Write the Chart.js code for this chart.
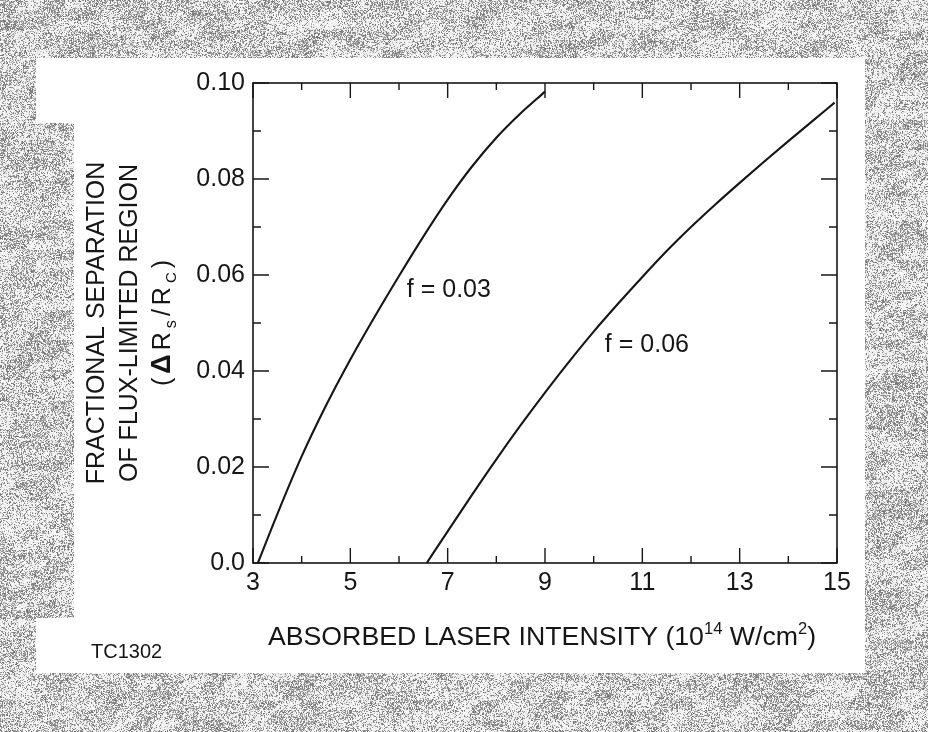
<!DOCTYPE html>
<html>
<head>
<meta charset="utf-8">
<style>
  html, body { margin: 0; padding: 0; background: #fff; }
  #c { display: block; }
</style>
<script src="https://cdn.jsdelivr.net/npm/chart.js@4.4.0/dist/chart.umd.min.js"></script>
</head>
<body>
<canvas id="c" width="928" height="732" style="width:928px;height:732px"></canvas>
<script>
// values
const f003X = [3.1, 3.5, 4.0, 4.5, 5.0, 5.5, 6.0, 6.5, 7.0, 7.5, 8.0, 8.5, 9.0];
const f003Y = [0, 0.0102, 0.0222, 0.0328, 0.0424, 0.0513, 0.0598, 0.068, 0.0757, 0.0826, 0.0886, 0.0937, 0.0982];

const f006X = [6.57, 7.0, 7.5, 8.0, 8.5, 9.0, 9.5, 10.0, 10.5, 11.0, 11.5, 12.0, 12.5, 13.0, 13.5, 14.0, 14.5, 14.95];
const f006Y = [0, 0.0066, 0.0142, 0.0216, 0.0287, 0.0355, 0.042, 0.0482, 0.054, 0.0596, 0.065, 0.07, 0.0747, 0.0792, 0.0836, 0.0879, 0.0921, 0.0959];

const xMajorTicks = [3, 5, 7, 9, 11, 13, 15];
const xMinorTicks = [4, 6, 8, 10, 12, 14];
const yMajorTicks = [0, 0.02, 0.04, 0.06, 0.08, 0.10];
const yMinorTicks = [0.01, 0.03, 0.05, 0.07, 0.09];
const yTickLabels = ['0.0', '0.02', '0.04', '0.06', '0.08', '0.10'];

const curveLabels = ['f = 0.03', 'f = 0.06'];
const curveLabelX = [6.16, 10.23];
const curveLabelY = [0.0569, 0.0454];

const FONT = "'Liberation Sans', Arial, Helvetica, sans-serif";
const INK = '#161616';
const W = 928, H = 732;

function hash(x, y) {
    let h = Math.imul(x, 374761393) + Math.imul(y, 668265263);
    h = Math.imul(h ^ (h >>> 13), 1274126177);
    return ((h ^ (h >>> 16)) >>> 0) / 4294967296;
}

// white sheet of the scan; the left edge is a bit wider in the middle
function onSheet(x, y) {
    if (y < 58 || y >= 673 || x >= 865) return false;
    if (x < 36) return false;
    if (x < 74 && y > 122 && y < 618) return false;
    return true;
}

function buildBackdrop() {
    const off = document.createElement('canvas');
    off.width = W;
    off.height = H;
    const g = off.getContext('2d');
    const img = g.createImageData(W, H);
    for (let y = 0; y < H; y++) {
        for (let x = 0; x < W; x++) {
            let v = 255;
            if (!onSheet(x, y)) {
                const blk = hash(Math.floor((x + y * 0.7) / 22), Math.floor(y / 10) + 977);
                const lvl = 0.2 + 0.4 * blk;
                v = hash(x, y) < lvl ? 110 + 70 * hash(y + 31, x + 7) : 228 + 27 * hash(x + 3, y + 11);
            }
            const i = (y * W + x) * 4;
            img.data[i] = img.data[i + 1] = img.data[i + 2] = v;
            img.data[i + 3] = 255;
        }
    }
    g.putImageData(img, 0, 0);
    return off;
}
const backdrop = buildBackdrop();

function drawRich(ctx, parts, cx, baseY, size, spacing) {
    spacing = spacing || 0;
    let total = 0;
    const widths = parts.map(p => {
        const s = size * (p.scale || 1);
        ctx.font = (p.bold ? 'bold ' : '') + s + 'px ' + FONT;
        const w = ctx.measureText(p.t).width + spacing;
        total += w;
        return w;
    });
    total -= spacing;
    let x = cx - total / 2;
    parts.forEach((p, i) => {
        const s = size * (p.scale || 1);
        ctx.font = (p.bold ? 'bold ' : '') + s + 'px ' + FONT;
        ctx.fillText(p.t, x, baseY + (p.dy || 0) * size);
        x += widths[i];
    });
}

const sheetPlugin = {
    id: 'sheet',
    beforeDraw(chart) {
        chart.ctx.drawImage(backdrop, 0, 0);
    },
    afterDraw(chart) {
        const ctx = chart.ctx;
        const a = chart.chartArea;
        const xs = chart.scales.x, ys = chart.scales.y;
        ctx.save();

        // frame
        ctx.strokeStyle = INK;
        ctx.lineWidth = 1.6;
        ctx.strokeRect(a.left, a.top, a.right - a.left, a.bottom - a.top);

        // inward ticks on all four sides
        ctx.lineWidth = 1.4;
        ctx.beginPath();
        const xt = (v, len) => {
            const px = xs.getPixelForValue(v);
            ctx.moveTo(px, a.bottom); ctx.lineTo(px, a.bottom - len);
            ctx.moveTo(px, a.top); ctx.lineTo(px, a.top + len);
        };
        const yt = (v, len) => {
            const py = ys.getPixelForValue(v);
            ctx.moveTo(a.left, py); ctx.lineTo(a.left + len, py);
            ctx.moveTo(a.right, py); ctx.lineTo(a.right - len, py);
        };
        xMajorTicks.forEach(v => xt(v, 15));
        xMinorTicks.forEach(v => xt(v, 7));
        yMajorTicks.forEach(v => yt(v, 16));
        yMinorTicks.forEach(v => yt(v, 8));
        ctx.stroke();

        ctx.fillStyle = INK;
        ctx.textBaseline = 'middle';
        ctx.textAlign = 'left';
        ctx.font = '25px ' + FONT;
        curveLabels.forEach((t, i) => {
            ctx.fillText(t, xs.getPixelForValue(curveLabelX[i]), ys.getPixelForValue(curveLabelY[i]));
        });

        // x axis title with superscripts
        ctx.textBaseline = 'alphabetic';
        drawRich(ctx, [
            { t: 'ABSORBED LASER INTENSITY (10' },
            { t: '14', scale: 0.62, dy: -0.42 },
            { t: ' W/cm' },
            { t: '2', scale: 0.62, dy: -0.42 },
            { t: ')' }
        ], (a.left + a.right) / 2 - 3, a.bottom + 82, 26.7);

        ctx.font = '20px ' + FONT;
        ctx.fillText('TC1302', 91, a.bottom + 95);

        // y axis title, three rotated lines
        ctx.translate(0, (a.top + a.bottom) / 2);
        ctx.rotate(-Math.PI / 2);
        drawRich(ctx, [{ t: 'FRACTIONAL SEPARATION' }], 0, 104, 25);
        drawRich(ctx, [{ t: 'OF FLUX-LIMITED REGION' }], 0, 137, 25);
        drawRich(ctx, [
            { t: '(' },
            { t: '\u0394', bold: true, scale: 1.08 },
            { t: 'R' },
            { t: 's', scale: 0.65, dy: 0.22 },
            { t: '/' },
            { t: 'R' },
            { t: 'C', scale: 0.6, dy: 0.22 },
            { t: ')' }
        ], 0, 170, 25, 4);

        ctx.restore();
    }
};

const toPoints = (xs, ys) => xs.map((x, i) => ({ x: x, y: ys[i] }));

new Chart(document.getElementById('c'), {
    type: 'line',
    data: {
        datasets: [
            { label: 'f = 0.03', data: toPoints(f003X, f003Y) },
            { label: 'f = 0.06', data: toPoints(f006X, f006Y) }
        ]
    },
    options: {
        responsive: false,
        animation: false,
        events: [],
        layout: { padding: { top: 83, right: 91, left: 0, bottom: 0 } },
        elements: {
            point: { radius: 0 },
            line: { borderColor: INK, borderWidth: 2.1, cubicInterpolationMode: 'monotone', fill: false }
        },
        plugins: { legend: { display: false }, tooltip: { enabled: false } },
        scales: {
            x: {
                type: 'linear',
                min: 3,
                max: 15,
                grid: { display: false, drawTicks: false },
                border: { display: false },
                afterBuildTicks: s => { s.ticks = xMajorTicks.map(v => ({ value: v })); },
                afterFit: s => { s.height = 169; },
                ticks: {
                    color: INK,
                    padding: 5,
                    maxRotation: 0,
                    font: { family: FONT, size: 25 },
                    callback: v => String(v)
                }
            },
            y: {
                min: 0,
                max: 0.1,
                grid: { display: false, drawTicks: false },
                border: { display: false },
                afterBuildTicks: s => { s.ticks = yMajorTicks.map(v => ({ value: v })); },
                afterFit: s => { s.width = 253; },
                ticks: {
                    color: INK,
                    padding: 8,
                    font: { family: FONT, size: 25 },
                    callback: (v, i) => yTickLabels[i]
                }
            }
        }
    },
    plugins: [sheetPlugin]
});
</script>
</body>
</html>
